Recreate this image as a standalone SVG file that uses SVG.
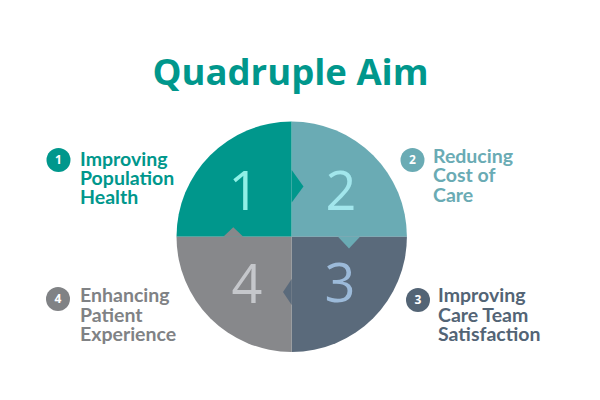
<svg xmlns="http://www.w3.org/2000/svg" width="600" height="400" viewBox="0 0 600 400">
  <style>
    .title { font-family: "Open Sans", "Liberation Sans", sans-serif; font-weight: 700; font-size: 36.5px; }
    .lbl { font-family: Lato, "Liberation Sans", sans-serif; font-weight: 700; font-size: 19.5px; }
    .big { font-family: "Open Sans", "Liberation Sans", sans-serif; font-weight: 400; font-size: 54px; text-anchor: middle; }
    .badge { font-family: "Open Sans", "Liberation Sans", sans-serif; font-weight: 700; font-size: 12px; fill: #ffffff; text-anchor: middle; }
  </style>
  <rect width="600" height="400" fill="#ffffff"/>
  <text class="title" x="290.5" y="85" text-anchor="middle" fill="#00978c">Quadruple Aim</text>

  <g id="quadrant-1">
    <path d="M291.7,236.7 L176.5,236.7 A115.2,115.2 0 0 1 291.7,121.5 Z" fill="#00978c"/>
    <text class="big" x="244" y="210" fill="#8ff0e6">1</text>
  </g>
  <g id="quadrant-2">
    <path d="M291.7,236.7 L291.7,121.5 A115.2,115.2 0 0 1 406.9,236.7 Z" fill="#6aabb4"/>
    <polygon points="291.7,170 303.5,186.5 291.7,202.5" fill="#00978c"/>
    <text class="big" x="341" y="210" fill="#a2e6ec">2</text>
  </g>
  <g id="quadrant-3">
    <path d="M291.7,236.7 L406.9,236.7 A115.2,115.2 0 0 1 291.7,351.9 Z" fill="#5a6a7b"/>
    <polygon points="338,236.7 349,248.5 360,236.7" fill="#6aabb4"/>
    <text class="big" x="340" y="302" fill="#9cbad9">3</text>
  </g>
  <g id="quadrant-4">
    <path d="M291.7,236.7 L291.7,351.9 A115.2,115.2 0 0 1 176.5,236.7 Z" fill="#87888b"/>
    <polygon points="291.7,279 283,292 291.7,305" fill="#5a6a7b"/>
    <polygon points="223.3,236.7 233.3,227.3 243.3,236.7" fill="#87888b"/>
    <text class="big" x="247" y="303" fill="#c5c7cb">4</text>
  </g>

  <g id="label-1">
    <circle cx="58.5" cy="160" r="12" fill="#00978c"/>
    <text class="badge" x="58.5" y="164.3">1</text>
    <text class="lbl" x="80" y="165.7" fill="#00978c">Improving</text>
    <text class="lbl" x="80" y="185" fill="#00978c">Population</text>
    <text class="lbl" x="80" y="204.3" fill="#00978c">Health</text>
  </g>
  <g id="label-2">
    <circle cx="412.5" cy="160" r="12" fill="#6aabb4"/>
    <text class="badge" x="412.5" y="164.3">2</text>
    <text class="lbl" x="433" y="162.5" fill="#6aabb4">Reducing</text>
    <text class="lbl" x="433" y="182" fill="#6aabb4">Cost of</text>
    <text class="lbl" x="433" y="201.5" fill="#6aabb4">Care</text>
  </g>
  <g id="label-3">
    <circle cx="418" cy="300" r="12" fill="#536475"/>
    <text class="badge" x="418" y="304.3">3</text>
    <text class="lbl" x="438" y="302" fill="#536475">Improving</text>
    <text class="lbl" x="438" y="321.5" fill="#536475">Care Team</text>
    <text class="lbl" x="438" y="341" fill="#536475">Satisfaction</text>
  </g>
  <g id="label-4">
    <circle cx="58" cy="299" r="12" fill="#808285"/>
    <text class="badge" x="58" y="303.3">4</text>
    <text class="lbl" x="80" y="302" fill="#808285">Enhancing</text>
    <text class="lbl" x="80" y="321.5" fill="#808285">Patient</text>
    <text class="lbl" x="80" y="341" fill="#808285">Experience</text>
  </g>
  <g id="connectors"></g>
</svg>
